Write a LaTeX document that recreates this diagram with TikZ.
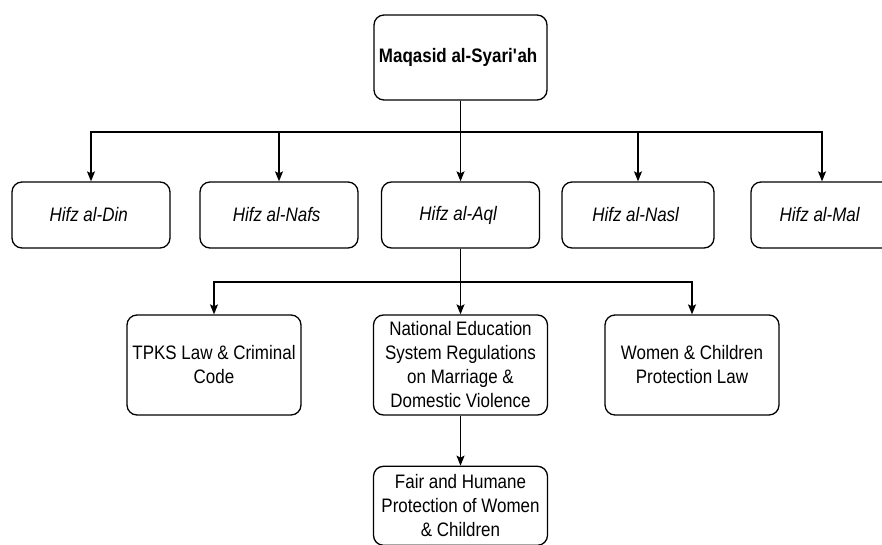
\documentclass[tikz,border=0pt]{standalone}
\usepackage{fontspec}
\setmainfont{Liberation Sans}[FakeStretch = 0.87]
\usepackage{tikz}
\usetikzlibrary{positioning, arrows.meta}

\begin{document}
\begin{tikzpicture}[x = 1pt, y = -1pt,
    every node/.style = { draw, align = center, rounded corners = 10pt, line width = 1.3pt,
                          inner sep = 0pt, font = \fontsize{19.5}{24}\selectfont },
    goal/.style = { minimum width = 158pt, minimum height = 66pt,
                    font = \fontsize{19.5}{24}\selectfont\itshape },
    law/.style = { minimum width = 174pt, minimum height = 100pt },
    link/.style = { line width = 1.3pt, -{Stealth[length = 10pt, width = 8pt, inset = 2pt]} }]
  \clip (0,0) rectangle (882,545);

  \node (maqasid) [minimum width = 173pt, minimum height = 85pt,
                   font = \fontsize{19.5}{24}\selectfont\bfseries] at (460.5,57.5)
        { Maqasid al-Syari\textquotesingle ah };

  % the five goals
  \node (din)  [goal] at (91,215)    { Hifz al-Din };
  \node (nafs) [goal] at (279,215)   { Hifz al-Nafs };
  \node (aql)  [goal] at (460.5,215) { Hifz al-Aql };
  \node (nasl) [goal, minimum width = 152pt] at (638,215) { Hifz al-Nasl };
  \node (mal)  [goal, minimum width = 142pt] at (822,215) { Hifz al-Mal };

  % laws under hifz al-aql
  \node (tpks)  [law] at (214,365)   { TPKS Law \& Criminal \\ Code };
  \node (edu)   [law] at (460.5,365) { National Education \\ System Regulations \\ on Marriage \& \\ Domestic Violence };
  \node (women) [law] at (692,365)   { Women \& Children \\ Protection Law };
  \node (fair)  [law, minimum height = 79pt, below = 50pt of edu]
        { Fair and Humane \\ Protection of Women \\ \& Children };

  \coordinate (goalbus) at (460.5,132);
  \coordinate (lawbus) at (460.5,282);

  \foreach \goal in {din, nafs, aql, nasl, mal}
    \draw [link] (maqasid) -- (goalbus) -| (\goal);
  \foreach \law in {tpks, edu, women}
    \draw [link] (aql) -- (lawbus) -| (\law);
  \draw [link] (edu) -- (fair);
\end{tikzpicture}
\end{document}
